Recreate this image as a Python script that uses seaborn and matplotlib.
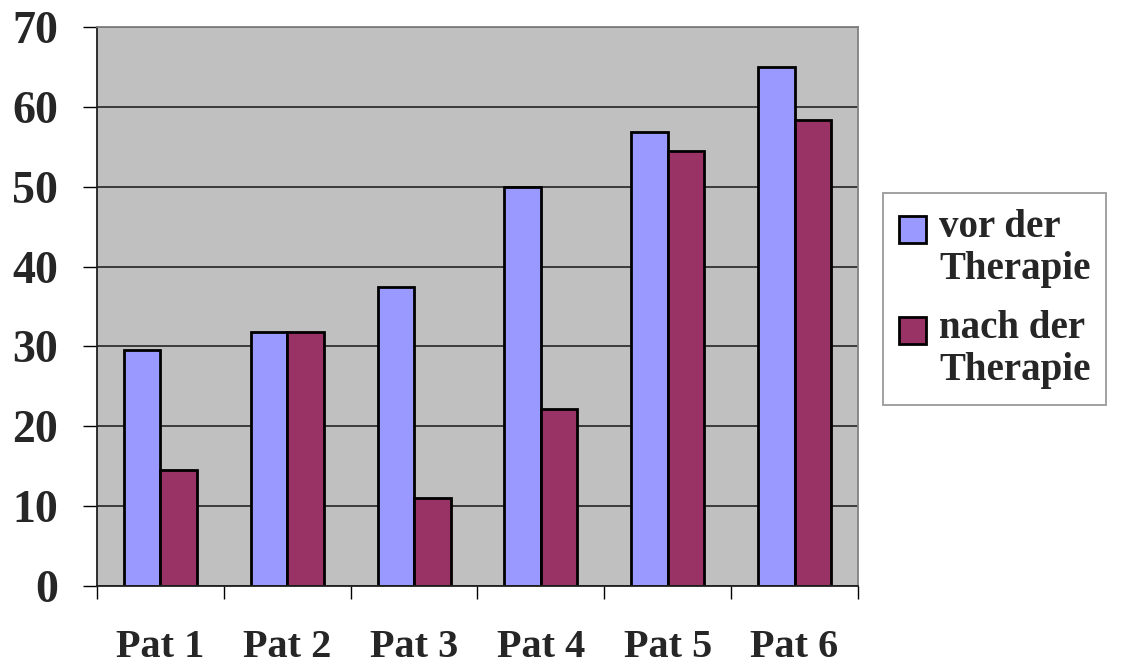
import pandas as pd
import matplotlib.pyplot as plt
import seaborn as sns
from matplotlib.ticker import FixedLocator
from matplotlib.patches import Rectangle
from matplotlib.legend_handler import HandlerPatch

# Werte
patienten = ['Pat 1', 'Pat 2', 'Pat 3', 'Pat 4', 'Pat 5', 'Pat 6']
vor_therapie = [29.5, 31.8, 37.5, 50.0, 56.8, 65.0]
nach_therapie = [14.5, 31.8, 11.0, 22.2, 54.5, 58.3]
serien = ['vor der\nTherapie', 'nach der\nTherapie']
farben = ['#9999FF', '#993366']

df = pd.DataFrame({
    'Patient': patienten * 2,
    'Wert': vor_therapie + nach_therapie,
    'Serie': [serien[0]] * len(patienten) + [serien[1]] * len(patienten),
})

sns.set_style('white')
plt.rcParams['font.family'] = ['Liberation Serif', 'DejaVu Serif']
plt.rcParams['font.weight'] = 'bold'

fig = plt.figure(figsize=(11.24, 6.70), dpi=100)
ax = fig.add_axes([0.0863, 0.1254, 0.677, 0.8343])
ax.set_facecolor('#C0C0C0')

sns.barplot(data=df, x='Patient', y='Wert', hue='Serie', palette=farben,
            width=0.575, edgecolor='black', linewidth=2, saturation=1,
            ax=ax)

handles, labels = ax.get_legend_handles_labels()
ax.get_legend().remove()

ax.set_xlim(-0.5, 5.5)
ax.set_ylim(0, 70)
ax.set_yticks(range(0, 71, 10))
ax.yaxis.grid(True, color='#303030', linewidth=1.3)
ax.set_axisbelow(True)

ax.set_xlabel('')
ax.set_ylabel('')

for name, sp in ax.spines.items():
    sp.set_visible(True)
    sp.set_color('#808080')
    sp.set_linewidth(1.3)
ax.spines['left'].set_color('#202020')
ax.spines['bottom'].set_color('#202020')

ax.tick_params(axis='y', which='major', length=10, width=1, color='black',
               direction='out', left=True, pad=18, labelsize=33)
ax.tick_params(axis='x', which='major', length=0, pad=31, labelsize=29)
# Striche an den Gruppengrenzen
ax.xaxis.set_minor_locator(FixedLocator([i - 0.5 for i in range(len(patienten) + 1)]))
ax.tick_params(axis='x', which='minor', length=9, width=1, color='black',
               direction='out', bottom=True)
for t in ax.get_xticklabels() + ax.get_yticklabels():
    t.set_fontweight('bold')


# Kästchen auf Höhe der ersten Textzeile
def oberes_kaestchen(legend, orig_handle, xdescent, ydescent, width, height, fontsize):
    return Rectangle((-xdescent, -ydescent + 0.5 * fontsize), width, height)


leg = fig.legend(handles, labels, loc='upper left',
                 bbox_to_anchor=(883 / 1124, 1 - 193 / 670),
                 fancybox=False, frameon=True,
                 prop={'weight': 'bold', 'size': 28},
                 handlelength=0.7, handleheight=0.7, handletextpad=0.35,
                 labelspacing=0.55, borderpad=0.4, borderaxespad=0,
                 handler_map={h: HandlerPatch(patch_func=oberes_kaestchen) for h in handles})
leg.get_frame().set_edgecolor('#808080')
leg.get_frame().set_linewidth(1.3)

fig.savefig('out.png', dpi=100)
